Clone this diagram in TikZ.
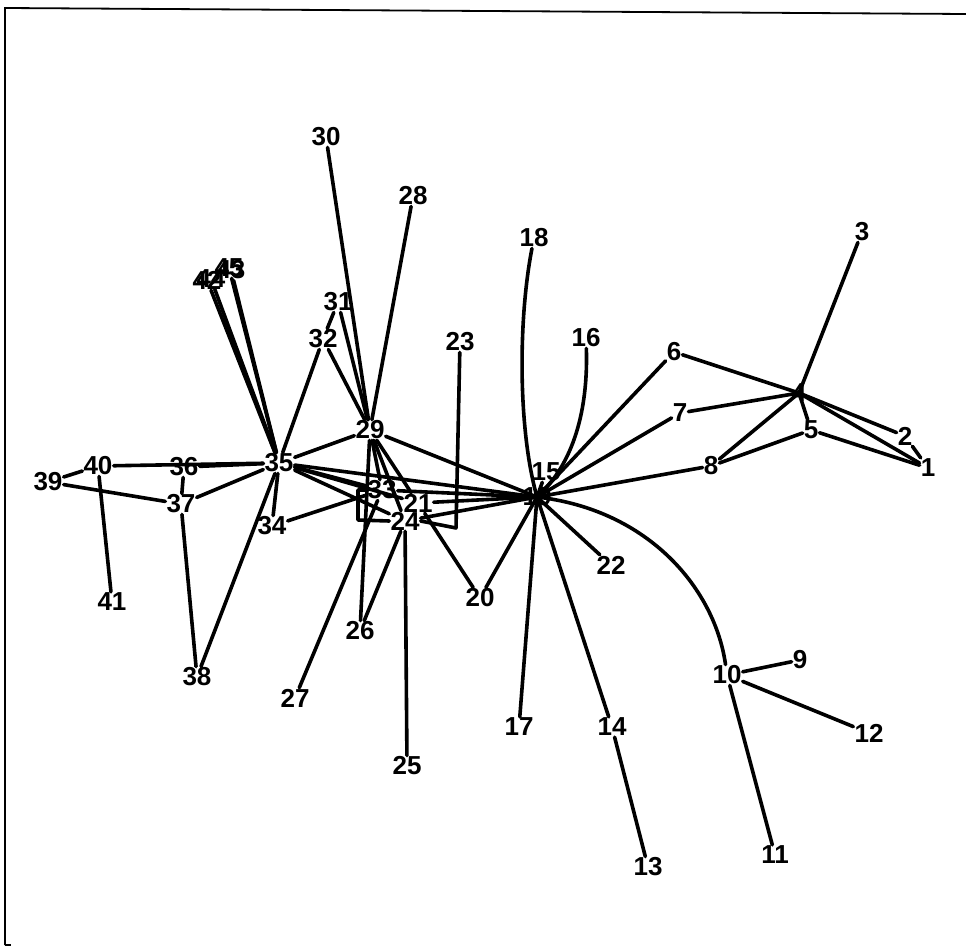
\documentclass[tikz,border=0pt]{standalone}
\usepackage{fontspec}
\setmainfont{Liberation Sans}
\begin{document}
\begin{tikzpicture}[x=1pt,y=-1pt,
  lab/.style={font=\fontsize{26}{26}\selectfont\bfseries, inner sep=1pt},
  edge/.style={line width=3.6pt, line cap=round, line join=round},
  frame/.style={line width=1.8pt}]
\useasboundingbox (0,0) rectangle (966,947);
% frame
\draw[frame] (5,945) -- (5,8) -- (966,14);
\draw[frame] (5,945) -- (11,945);
% nodes
\node[lab] (n1) at (928,468) {1};
\node[lab] (n2) at (905,436) {2};
\node[lab] (n3) at (862,232) {3};
\node[lab] (n4) at (799,393) {4};
\node[lab] (n5) at (811,430) {5};
\node[lab] (n6) at (674,352) {6};
\node[lab] (n7) at (680,413) {7};
\node[lab] (n8) at (711,466) {8};
\node[lab] (n9) at (800,660) {9};
\node[lab] (n10) at (727,675) {10};
\node[lab] (n11) at (775,855) {11};
\node[lab] (n12) at (869,733) {12};
\node[lab] (n13) at (648,867) {13};
\node[lab] (n14) at (612,727) {14};
\node[lab] (n15) at (546,472) {15};
\node[lab] (n16) at (586,338) {16};
\node[lab] (n17) at (519,727) {17};
\node[lab] (n18) at (534,238) {18};
\node[lab] (n19) at (537,497) {19};
\node[lab] (n20) at (480,598) {20};
\node[lab] (n21) at (418,503) {21};
\node[lab] (n22) at (611,565) {22};
\node[lab] (n23) at (460,342) {23};
\node[lab] (n24) at (405,521) {24};
\node[lab] (n25) at (407,766) {25};
\node[lab] (n26) at (360,631) {26};
\node[lab] (n27) at (295,698) {27};
\node[lab] (n28) at (413,196) {28};
\node[lab] (n29) at (370,430) {29};
\node[lab] (n30) at (326,137) {30};
\node[lab] (n31) at (338,302) {31};
\node[lab] (n32) at (323,339) {32};
\node[lab] (n33) at (382,490) {33};
\node[lab] (n34) at (272,526) {34};
\node[lab] (n35) at (279,463) {35};
\node[lab] (n36) at (184,467) {36};
\node[lab] (n37) at (181,504) {37};
\node[lab] (n38) at (197,677) {38};
\node[lab] (n39) at (48,482) {39};
\node[lab] (n40) at (98,466) {40};
\node[lab] (n41) at (112,602) {41};
\node[lab] (n42) at (207,280) {42};
\node[lab] (n44) at (211,279) {44};
\node[lab] (n45) at (229,268) {45};
\node[lab] (n43) at (231,270) {43};
\coordinate (c1) at (358,490);
\coordinate (c2) at (358,520);
\coordinate (c3) at (456,528);
% edges
\draw[edge] (n3) -- (n4.center);
\draw[edge] (n4.center) -- (n2);
\draw[edge] (n4.center) -- (n1);
\draw[edge] (n2) -- (n1);
\draw[edge] (n5) -- (n1);
\draw[edge] (n4.center) -- (n5);
\draw[edge] (n6) -- (n4.center);
\draw[edge] (n7) -- (n4.center);
\draw[edge] (n8) -- (n4.center);
\draw[edge] (n8) -- (n5);
\draw[edge] (n19.center) -- (n6);
\draw[edge] (n19.center) -- (n7);
\draw[edge] (n19.center) -- (n8);
\draw[edge] (n19.center) .. controls (578,460) and (588,400) .. (n16);
\draw[edge] (n19.center) .. controls (518,430) and (518,320) .. (n18);
\draw[edge] (n19.center) -- (n15);
\draw[edge] (n19.center) -- (n22);
\draw[edge] (n19.center) -- (n17);
\draw[edge] (n19.center) -- (n14);
\draw[edge] (n14) -- (n13);
\draw[edge] (n19.center) .. controls (650,510) and (715,590) .. (n10);
\draw[edge] (n10) -- (n9);
\draw[edge] (n10) -- (n12);
\draw[edge] (n10) -- (n11);
\draw[edge] (n19.center) -- (n20);
\draw[edge] (n21) -- (n20);
\draw[edge] (n29) -- (n19.center);
\draw[edge] (n35) -- (n19.center);
\draw[edge] (n33) -- (n19.center);
\draw[edge] (n21) -- (n19.center);
\draw[edge] (n24) -- (n19.center);
\draw[edge] (n35) -- (n29);
\draw[edge] (n35) -- (n33);
\draw[edge] (n35) -- (n24);
\draw[edge] (n35) -- (n21);
\draw[edge] (n35) -- (n34);
\draw[edge] (n35) -- (n36);
\draw[edge] (n35) -- (n37);
\draw[edge] (n35) -- (n38);
\draw[edge] (n35) -- (n40);
\draw[edge] (n35) -- (n32);
\draw[edge] (n35) -- (n42);
\draw[edge] (n35) -- (n44);
\draw[edge] (n35) -- (n45);
\draw[edge] (n35) -- (n43);
\draw[edge] (n37) -- (n36);
\draw[edge] (n39) -- (n37);
\draw[edge] (n37) -- (n38);
\draw[edge] (n39) -- (n40);
\draw[edge] (n40) -- (n41);
\draw[edge] (n32) -- (n29);
\draw[edge] (n31) -- (n32);
\draw[edge] (n31) -- (n29);
\draw[edge] (n30) -- (n29);
\draw[edge] (n28) -- (n29);
\draw[edge] (n29) -- (n21);
\draw[edge] (n29) -- (n24);
\draw[edge] (n29) -- (n33);
\draw[edge] (n29) -- (n26);
\draw[edge] (n26) -- (n24);
\draw[edge] (n24) -- (n25);
\draw[edge] (n27) -- (n33);
\draw[edge] (n34) -- (n33);
\draw[edge] (n33.west) -- (c1) -- (c2) -- (n24.west);
\draw[edge] (n23) -- (c3) -- (n24.east);
\end{tikzpicture}
\end{document}
